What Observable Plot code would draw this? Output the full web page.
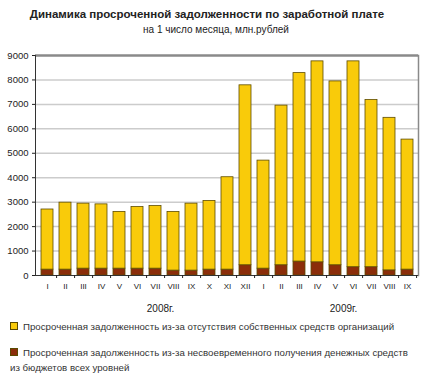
<!DOCTYPE html>
<html><head><meta charset="utf-8">
<script src="https://cdn.jsdelivr.net/npm/d3@7"></script>
<script src="https://cdn.jsdelivr.net/npm/@observablehq/plot@0.6"></script>
<style>
body{margin:0;background:#fff;font-family:Arial,"Liberation Sans",sans-serif;}
#wrap{position:relative;width:434px;height:379px;overflow:hidden;background:#fff}
.title{position:absolute;left:0;width:414px;top:8px;text-align:center;font-weight:bold;font-size:11.5px;color:#222;white-space:nowrap}
.sub{position:absolute;left:0;width:432px;top:24px;text-align:center;font-size:10px;color:#222;white-space:nowrap}
#chart{position:absolute;left:0;top:40px}
.leg{position:absolute;left:10px;font-size:9.7px;color:#333;line-height:15px;white-space:nowrap}
.sw{display:inline-block;width:6px;height:6px;border:1px solid #5a4a00;margin-right:5px;vertical-align:0px}
</style></head>
<body><div id="wrap">
<div class="title">Динамика просроченной задолженности по заработной плате</div>
<div class="sub">на 1 число месяца, млн.рублей</div>
<div id="chart"></div>
<div class="leg" style="top:319px"><span class="sw" style="background:#F9CB0A"></span>Просроченная задолженность из-за отсутствия собственных средств  организаций</div>
<div class="leg" style="top:345px"><span class="sw" style="background:#8B2D0A"></span>Просроченная задолженность из-за несвоевременного получения денежных средств<br>из бюджетов всех уровней</div>
</div>
<script>
const months = ["I","II","III","IV","V","VI","VII","VIII","IX","X","XI","XII","I","II","III","IV","V","VI","VII","VIII","IX"];
const years  = [2008,2008,2008,2008,2008,2008,2008,2008,2008,2008,2008,2008,2009,2009,2009,2009,2009,2009,2009,2009,2009];
const totals = [2700,2980,2940,2910,2600,2800,2840,2600,2940,3050,4020,7780,4700,6950,8280,8760,7940,8760,7180,6450,5560];
const budget = [240,240,280,280,280,280,280,200,200,240,240,420,280,420,570,540,420,340,340,210,240];
const yearLabels = ["2008г.","2009г."];
const seriesNames = ["budget","own"];

const keys = months.map((m,i)=>years[i]+"-"+m);
const rows = [];
keys.forEach((k,i)=>{
  rows.push({key:k, series:"budget", value:budget[i]});
  rows.push({key:k, series:"own", value:totals[i]-budget[i]});
});
const monthOf = k => k.split("-")[1];

const step = 383/(21-0.34+0.4);
const chart = Plot.plot({
  width:434, height:275,
  marginTop:15, marginLeft:35, marginRight:16, marginBottom:40,
  style:{fontFamily:"Arial, 'Liberation Sans', sans-serif", fontSize:"8.5px", color:"#222", background:"transparent"},
  x:{domain:keys, paddingInner:0.34, paddingOuter:0.2, label:null},
  y:{domain:[0,9000], label:null},
  color:{domain:["own","budget"], range:["#F9CB0A","#8B2D0A"]},
  marks:[
    Plot.gridY({ticks:d3.range(1000,9000,1000), stroke:"#cccccc", strokeOpacity:1, strokeWidth:1.5}),
    Plot.barY(rows, {x:"key", y:"value", fill:"series", stroke:"#5e4c00", strokeWidth:0.8, order: seriesNames}),
    Plot.ruleY([9000], {stroke:"#8a8a8a", strokeWidth:2.5}),
    Plot.frame({anchor:"right", stroke:"#8a8a8a", strokeWidth:1.5}),
    Plot.frame({anchor:"left", stroke:"#333", strokeWidth:1}),
    Plot.ruleY([0], {stroke:"#333", strokeWidth:1}),
    Plot.axisY({ticks:d3.range(0,9001,1000), tickFormat:d=>String(d), tickSize:3, tickPadding:4, fontSize:9.5}),
    Plot.axisX({tickSize:0, tickPadding:8, tickFormat:monthOf, fontSize:8}),
    Plot.axisX({tickSize:3, tickFormat:()=>"", dx:step/2}),
    Plot.text([yearLabels[0]], {x:()=>"2008-VII", text:d=>d, frameAnchor:"bottom", dy:36, dx:5, fontSize:10}),
    Plot.text([yearLabels[1]], {x:()=>"2009-V", text:d=>d, frameAnchor:"bottom", dy:36, dx:8, fontSize:10})
  ]
});
document.getElementById("chart").appendChild(chart);
</script>
</body></html>
